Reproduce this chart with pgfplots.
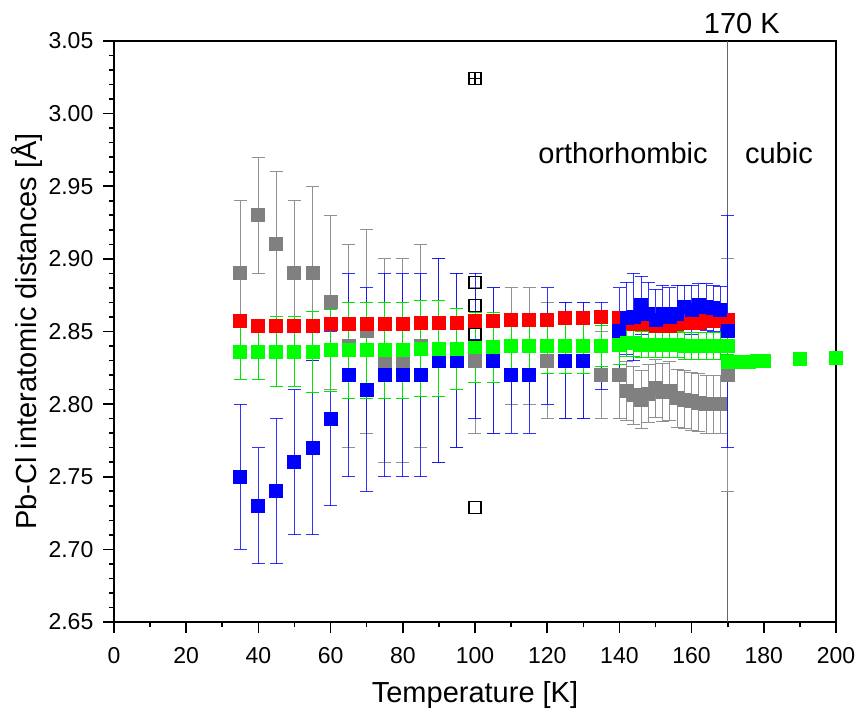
\documentclass[border=0pt]{standalone}
\usepackage{fontspec}
\setmainfont{Liberation Sans}
\usepackage{pgfplots}
\pgfplotsset{compat=1.18}
\usepackage{pgfplotstable}

\definecolor{cgray}{RGB}{128,128,128}
\definecolor{egray}{RGB}{145,145,145}
\definecolor{cred}{RGB}{255,0,0}
\definecolor{cgreen}{RGB}{0,255,0}
\definecolor{egreen}{RGB}{0,230,0}
\definecolor{cblue}{RGB}{0,0,255}

\pgfplotstableread{
x y e
35 2.890 0.05
40 2.930 0.04
45 2.910 0.05
50 2.890 0.05
55 2.890 0.06
60 2.870 0.06
65 2.840 0.07
70 2.850 0.07
75 2.830 0.07
80 2.830 0.07
85 2.840 0.07
90 2.830 0.07
95 2.830 0.06
100 2.830 0.05
105 2.830 0.05
110 2.840 0.04
115 2.840 0.04
120 2.830 0.04
125 2.830 0.04
130 2.830 0.04
135 2.820 0.03
140 2.820 0.03
142 2.809 0.02
144 2.806 0.02
146 2.803 0.02
148 2.807 0.02
150 2.811 0.02
152 2.808 0.02
154 2.809 0.02
156 2.804 0.02
158 2.803 0.02
160 2.802 0.02
162 2.801 0.02
164 2.800 0.02
166 2.800 0.02
168 2.800 0.02
170 2.820 0.08
}\grayT

\pgfplotstableread{
x y
35 2.857
40 2.854
45 2.854
50 2.854
55 2.854
60 2.855
65 2.855
70 2.855
75 2.855
80 2.855
85 2.856
90 2.856
95 2.856
100 2.857
105 2.857
110 2.858
115 2.858
120 2.858
125 2.859
130 2.859
135 2.860
140 2.859
142 2.856
144 2.855
146 2.855
148 2.855
150 2.854
152 2.854
154 2.854
156 2.855
158 2.856
160 2.856
162 2.856
164 2.857
166 2.857
168 2.857
170 2.858
}\redT

\pgfplotstableread{
x y e
35 2.750 0.05
40 2.730 0.04
45 2.740 0.05
50 2.760 0.05
55 2.770 0.06
60 2.790 0.06
65 2.820 0.07
70 2.810 0.07
75 2.820 0.07
80 2.820 0.07
85 2.820 0.07
90 2.830 0.07
95 2.830 0.06
100 2.840 0.05
105 2.830 0.05
110 2.820 0.04
115 2.820 0.04
120 2.840 0.04
125 2.830 0.04
130 2.830 0.04
135 2.840 0.03
140 2.850 0.03
142 2.859 0.025
144 2.860 0.030
146 2.868 0.020
148 2.862 0.022
150 2.858 0.021
152 2.862 0.020
154 2.860 0.020
156 2.862 0.020
158 2.867 0.015
160 2.865 0.017
162 2.868 0.015
164 2.867 0.016
166 2.866 0.016
168 2.865 0.016
170 2.850 0.080
}\blueT

\pgfplotstableread{
x y e
35 2.836 0.019
40 2.836 0.019
45 2.836 0.024
50 2.836 0.024
55 2.836 0.028
60 2.837 0.028
65 2.837 0.033
70 2.837 0.033
75 2.837 0.033
80 2.837 0.033
85 2.838 0.033
90 2.838 0.033
95 2.838 0.028
100 2.839 0.024
105 2.839 0.024
110 2.840 0.019
115 2.840 0.019
120 2.840 0.019
125 2.840 0.019
130 2.840 0.019
135 2.840 0.014
140 2.841 0.014
142 2.842 0.009
144 2.842 0.009
146 2.841 0.009
148 2.841 0.009
150 2.841 0.009
152 2.841 0.009
154 2.841 0.009
156 2.841 0.009
158 2.840 0.009
160 2.840 0.009
162 2.840 0.009
164 2.840 0.009
166 2.840 0.009
168 2.840 0.009
170 2.840 0.006
}\greenT

\pgfplotstableread{
x y
170 2.829
172 2.829
174 2.829
176 2.829
178 2.830
180 2.830
190 2.831
200 2.832
}\cubicT

\pgfplotstableread{
x y
100 3.024
100 2.884
100 2.868
100 2.848
100 2.729
}\openT

\begin{document}
\begin{tikzpicture}
\begin{axis}[
  width=361pt, height=290.5pt, scale only axis,
  xmin=0, xmax=200, ymin=2.65, ymax=3.05,
  xtick={0,20,40,60,80,100,120,140,160,180,200},
  ytick={2.65,2.70,2.75,2.80,2.85,2.90,2.95,3.00,3.05},
  minor x tick num=1, minor y tick num=4,
  tick align=outside, tick pos=left,
  major tick length=5.3pt, minor tick length=2.6pt,
  every tick/.style={black, line width=0.8pt},
  axis line style={line width=0.8pt},
  clip=false,
  /pgf/number format/assume math mode=true,
  tick label style={font=\fontsize{11.5}{13}\selectfont},
  yticklabel style={xshift=-1.5pt, /pgf/number format/.cd, fixed, fixed zerofill, precision=2},
  xticklabel style={yshift=-4pt, /pgf/number format/.cd, fixed, precision=0},
  label style={font=\fontsize{14.5}{17}\selectfont},
  xlabel={Temperature [K]},
  ylabel={Pb-Cl interatomic distances [Å]},
  xlabel style={at={(axis description cs:0.5,-0.1394)}, anchor=base},
  ylabel style={at={(axis description cs:-0.1205,0.5)}, anchor=center},
]
\coordinate (ll) at (rel axis cs:0,0);
\coordinate (ur) at (rel axis cs:1,1);
% phase boundary
\addplot[black!60, line width=0.6pt] coordinates {(170,2.65) (170,3.05)};

% gray
\addplot[only marks, mark=square*, mark size=3.25pt, mark options={draw=cgray, fill=cgray, line width=0pt},
  error bars/.cd, y dir=both, y explicit,
  error bar style={egray, line width=0.5pt},
  error mark options={rotate=90, egray, line width=0.5pt, mark size=3.25pt}]
  table[x=x, y=y, y error=e] {\grayT};
% red
\addplot[only marks, mark=square*, mark size=3.25pt, mark options={draw=cred, fill=cred, line width=0pt}]
  table[x=x, y=y] {\redT};
% blue
\addplot[only marks, mark=square*, mark size=3.25pt, mark options={draw=cblue, fill=cblue, line width=0pt},
  error bars/.cd, y dir=both, y explicit,
  error bar style={cblue, opacity=0.8, line width=0.5pt},
  error mark options={rotate=90, cblue, opacity=0.8, line width=0.5pt, mark size=3.25pt}]
  table[x=x, y=y, y error=e] {\blueT};
% green
\addplot[only marks, mark=square*, mark size=3.25pt, mark options={draw=cgreen, fill=cgreen, line width=0pt},
  error bars/.cd, y dir=both, y explicit,
  error bar style={egreen, line width=0.5pt},
  error mark options={rotate=90, egreen, line width=0.5pt, mark size=3.25pt}]
  table[x=x, y=y, y error=e] {\greenT};
% cubic
\addplot[only marks, mark=square*, mark size=3.25pt, mark options={draw=cgreen, fill=cgreen, line width=0pt}]
  table[x=x, y=y] {\cubicT};
% open squares
\addplot[only marks, mark=square, mark size=3pt, mark options={draw=black, line width=0.6pt}]
  table[x=x, y=y] {\openT};
\addplot[only marks, mark=+, mark size=3pt, mark options={draw=black, line width=0.6pt}]
  coordinates {(100,3.024)};

\node[anchor=base, font=\fontsize{14.5}{17}\selectfont] at (axis cs:141,2.966) {orthorhombic};
\node[anchor=base, font=\fontsize{14.5}{17}\selectfont] at (axis cs:184.2,2.966) {cubic};
\node[anchor=base, font=\fontsize{14.5}{17}\selectfont] at (axis cs:173.9,3.0553) {170 K};
\end{axis}
\pgfresetboundingbox
\path[use as bounding box] ([shift={(-57pt,-44pt)}]ll) rectangle ([shift={(10.5pt,20.5pt)}]ur);
\end{tikzpicture}
\end{document}
